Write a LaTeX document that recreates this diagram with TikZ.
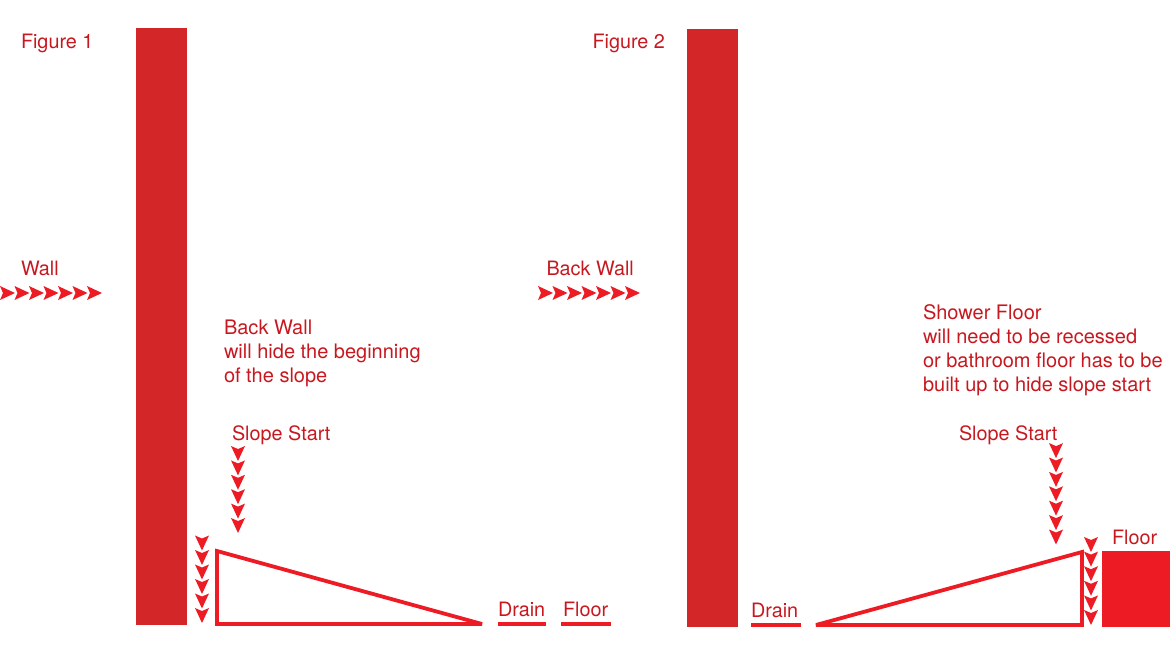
\documentclass[tikz,border=0pt]{standalone}
\usepackage{fontspec}
\setmainfont{TeX Gyre Heros}
\definecolor{wallred}{HTML}{D22628}
\definecolor{markred}{HTML}{ED1C24}
\definecolor{textred}{HTML}{C8181F}
\tikzset{
  x=1pt,y=-1pt,
  wallbar/.style={fill=wallred,draw=none},
  outline/.style={draw=markred,line width=3.8pt,miter limit=4,line join=miter},
  rulebar/.style={draw=markred,line width=3.4pt},
  label/.style={anchor=base west,inner sep=0pt,outer sep=0pt,text=textred,font=\fontsize{19.8}{24}\selectfont,align=left},
  longlabel/.style={label,font=\fontsize{20}{24}\selectfont},
  pics/chev/.style={code={\fill[markred] (0,0) -- (-15,-7) -- (-12,0) -- (-15,7) -- cycle;}}
}
\begin{document}
\begin{tikzpicture}
\useasboundingbox (0,0) rectangle (1170,658);
% walls
\fill[wallbar] (136,28) rectangle (187,625);
\fill[wallbar] (687,29) rectangle (738,627);
% slopes
\draw[outline] (217,551) -- (482,624) -- (217,624) -- cycle;
\draw[outline] (816,625) -- (1082,552) -- (1082,625) -- cycle;
% floor and drains
\fill[markred] (1102,551) rectangle (1170,627);
\draw[rulebar] (498,624) -- (546,624);
\draw[rulebar] (561,624) -- (611,624);
\draw[rulebar] (751,625) -- (801,625);
% arrow rows
\foreach \t in {0,...,6}{
  \pic[rotate=0] at (102-14.5*\t,293) {chev};
  \pic[rotate=0] at (640-14.5*\t,293) {chev};
}
\foreach \t in {0,...,5}{
  \pic[rotate=-90] at (238,533-14.4*\t) {chev};
  \pic[rotate=-90] at (202,623-14.5*\t) {chev};
  \pic[rotate=-90] at (1091,625-14.6*\t) {chev};
}
\foreach \t in {0,...,6}{
  \pic[rotate=-90] at (1056,544.5-14.4*\t) {chev};
}
% labels
\node[label] (fig1) at (21,49) {Figure 1};
\node[label] (fig2) at (592.5,49) {Figure 2};
\node[label] (wall) at (21,275) {Wall};
\node[label] (back2) at (546.5,275) {Back Wall};
\node[longlabel] (back1) at (224,382) {Back Wall\\will hide the beginning\\of the slope};
\node[longlabel] (shower) at (923,391) {Shower Floor\\will need to be recessed\\or bathroom floor has to be\\built up to hide slope start};
\node[label] (start1) at (232,440) {Slope Start};
\node[label] (start2) at (959,440) {Slope Start};
\node[label] (drain1) at (498,616) {Drain};
\node[label] (floor1) at (563,616) {Floor};
\node[label] (drain2) at (751,617) {Drain};
\node[label] (floor2) at (1112,544) {Floor};
\end{tikzpicture}
\end{document}
